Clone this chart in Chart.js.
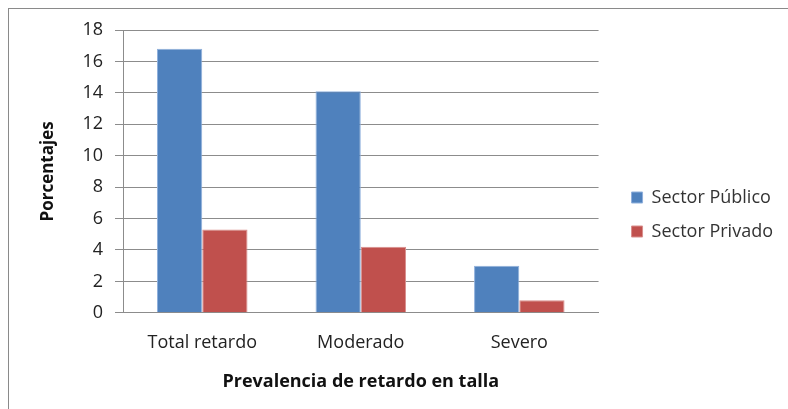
<!DOCTYPE html>
<html>
<head>
<meta charset="utf-8">
<script src="https://cdn.jsdelivr.net/npm/chart.js@4"></script>
<style>
  html, body { margin: 0; padding: 0; background: #fff; }
  #wrap { width: 788px; height: 409px; position: relative; }
</style>
</head>
<body>
<div id="wrap"><canvas id="chart" width="788" height="409"></canvas></div>
<script>
// data
const categories = ['Total retardo', 'Moderado', 'Severo'];
const sectorPublico = [16.8, 14.1, 3.0];
const sectorPrivado = [5.3, 4.2, 0.8];
const yTicks = [0, 2, 4, 6, 8, 10, 12, 14, 16, 18];

const FONT = "'Open Sans', 'DejaVu Sans', sans-serif";
const LEGEND_GAP = 17; // extra room between plot and legend

// thin frame around the whole chart, like the spreadsheet chart box
const frame = {
  id: 'frame',
  afterDraw(chart) {
    const ctx = chart.ctx;
    ctx.save();
    ctx.strokeStyle = '#8a8a8a';
    ctx.lineWidth = 1;
    ctx.strokeRect(8.5, 8.5, 900, 500);
    ctx.restore();
  }
};

// push the legend a bit further from the plot area
const legendGap = {
  id: 'legendGap',
  afterInit(chart) {
    const lg = chart.legend;
    if (!lg) return;
    const fit = lg.fit.bind(lg);
    lg.fit = function () { fit(); this.width += LEGEND_GAP; };
  },
  afterLayout(chart) {
    const lg = chart.legend;
    if (lg) lg.left += LEGEND_GAP;
  }
};

new Chart(document.getElementById('chart'), {
  type: 'bar',
  data: {
    labels: categories,
    datasets: [
      { label: 'Sector Público', data: sectorPublico, backgroundColor: '#4f81bd', borderColor: '#8fb0dc', borderWidth: 1 },
      { label: 'Sector Privado', data: sectorPrivado, backgroundColor: '#c0504d', borderColor: '#d98f8d', borderWidth: 1 }
    ]
  },
  options: {
    responsive: false,
    animation: false,
    layout: { padding: { left: 30, top: 30, right: 5, bottom: 10 } },
    datasets: { bar: { categoryPercentage: 0.571, barPercentage: 1 } },
    plugins: {
      legend: {
        position: 'right',
        labels: {
          boxWidth: 11, boxHeight: 11, padding: 16,
          color: '#333', font: { family: FONT, size: 18 }
        }
      },
      tooltip: { enabled: false }
    },
    scales: {
      x: {
        grid: { display: false },
        border: { display: true, color: '#8c8c8c', width: 1 },
        ticks: { color: '#222', font: { family: FONT, size: 18 }, padding: 11 },
        title: {
          display: true, text: 'Prevalencia de retardo en talla',
          color: '#111', font: { family: FONT, size: 18, weight: 'bold' }, padding: { top: 7, bottom: 6 }
        }
      },
      y: {
        min: 0, max: 18,
        afterFit(s) { s.width = 93; },
        afterBuildTicks(s) { s.ticks = yTicks.map(v => ({ value: v })); },
        grid: { color: '#8c8c8c', lineWidth: 1, tickLength: 8 },
        border: { display: true, color: '#8c8c8c', width: 1 },
        ticks: { color: '#222', font: { family: FONT, size: 18 }, padding: 12 },
        title: {
          display: true, text: 'Porcentajes',
          color: '#111', font: { family: FONT, size: 17, weight: 'bold' }, padding: { top: 8, bottom: 4 }
        }
      }
    }
  },
  plugins: [frame, legendGap]
});
</script>
</body>
</html>
